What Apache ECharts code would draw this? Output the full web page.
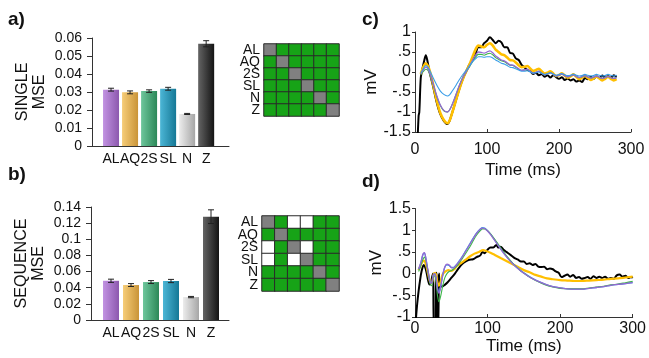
<!DOCTYPE html>
<html>
<head>
<meta charset="utf-8">
<script src="https://cdn.jsdelivr.net/npm/echarts@6/dist/echarts.min.js"></script>
<style>
  html, body { margin: 0; padding: 0; background: #fff; }
  #chart { width: 649px; height: 358px; }
</style>
</head>
<body>
<div id="chart"></div>
<script>
// bar panels a) and b)
var barCats = ['AL', 'AQ', '2S', 'SL', 'N', 'Z'];
var singleMse = [0.0313, 0.0298, 0.0305, 0.0318, 0.0178, 0.0568];
var singleErr = [0.0008, 0.0008, 0.0007, 0.0008, 0.0003, 0.0017];
var seqMse = [0.0486, 0.0433, 0.0470, 0.0483, 0.0284, 0.1280];
var seqErr = [0.0020, 0.0018, 0.0018, 0.0020, 0.0008, 0.0085];

// significance matrices: 0 = white, 1 = green, 2 = diagonal
var singleMatrix = [
  [2, 1, 1, 1, 1, 1],
  [1, 2, 1, 1, 1, 1],
  [1, 1, 2, 1, 1, 1],
  [1, 1, 1, 2, 1, 1],
  [1, 1, 1, 1, 2, 1],
  [1, 1, 1, 1, 1, 2]
];
var seqMatrix = [
  [2, 1, 0, 0, 1, 1],
  [1, 2, 1, 1, 1, 1],
  [0, 1, 2, 0, 1, 1],
  [0, 1, 0, 2, 1, 1],
  [1, 1, 1, 1, 2, 1],
  [1, 1, 1, 1, 1, 2]
];

// panel c) single, [ms, mV]
var cBlack = [[3,-2],[5,-1.1],[6,-1.0],[8,-0.15],[10,0.05],[13,0.3],[15,0.42],[17,0.3],[20,0.02],[25,-0.35],[30,-0.75],[35,-1.05],[40,-1.22],[45,-1.3],[48,-1.22],[52,-1.0],[57,-0.7],[62,-0.4],[67,-0.15],[72,0.05],[76,0.2],[80,0.3],[84,0.45],[88,0.62],[92,0.62],[96,0.72],[100,0.78],[104,0.87],[108,0.8],[112,0.72],[116,0.78],[120,0.74],[124,0.62],[128,0.62],[132,0.48],[136,0.46],[140,0.34],[144,0.3],[148,0.18],[152,0.12],[156,0.05],[160,0.02],[164,-0.05],[168,-0.02],[172,-0.08],[176,-0.05],[180,-0.12],[184,-0.08],[188,-0.14],[192,-0.08],[196,-0.13],[200,-0.17],[204,-0.13],[208,-0.2],[212,-0.16],[216,-0.21],[220,-0.18],[224,-0.24],[228,-0.21],[232,-0.25],[236,-0.15],[240,-0.18],[244,-0.12],[248,-0.17],[252,-0.11],[256,-0.15],[260,-0.09],[264,-0.14],[268,-0.1],[272,-0.15],[276,-0.08],[280,-0.12]];
var cOrange = [[8,-0.05],[11,0.1],[15,0.22],[18,0.15],[21,0.0],[25,-0.3],[30,-0.7],[35,-1.02],[40,-1.2],[45,-1.28],[48,-1.22],[52,-1.0],[57,-0.7],[62,-0.4],[67,-0.15],[72,0.05],[76,0.2],[80,0.38],[84,0.56],[88,0.66],[92,0.64],[96,0.62],[100,0.68],[104,0.72],[108,0.66],[112,0.56],[116,0.5],[120,0.44],[124,0.42],[128,0.36],[132,0.3],[136,0.29],[140,0.24],[144,0.17],[148,0.12],[152,0.13],[156,0.15],[160,0.09],[164,0.03],[168,0.05],[172,0.08],[176,0.02],[180,-0.04],[184,-0.02],[188,0.02],[192,-0.04],[196,-0.1],[200,-0.08],[204,-0.03],[208,-0.09],[212,-0.14],[216,-0.11],[220,-0.06],[224,-0.12],[228,-0.18],[232,-0.14],[236,-0.09],[240,-0.15],[244,-0.2],[248,-0.16],[252,-0.11],[256,-0.16],[260,-0.21],[264,-0.17],[268,-0.12],[272,-0.17],[276,-0.21],[280,-0.18]];
var cPurple = [[8,-0.05],[11,0.04],[15,0.12],[18,0.08],[21,-0.05],[25,-0.28],[30,-0.58],[35,-0.82],[40,-0.96],[45,-1.0],[48,-0.95],[52,-0.8],[57,-0.56],[62,-0.32],[67,-0.12],[72,0.04],[76,0.16],[80,0.3],[84,0.42],[88,0.5],[92,0.49],[96,0.47],[100,0.5],[104,0.53],[108,0.48],[112,0.4],[116,0.35],[120,0.3],[124,0.28],[128,0.23],[132,0.18],[136,0.17],[140,0.13],[144,0.08],[148,0.04],[152,0.05],[156,0.07],[160,0.02],[164,-0.03],[168,-0.01],[172,0.02],[176,-0.03],[180,-0.07],[184,-0.05],[188,-0.02],[192,-0.06],[196,-0.1],[200,-0.08],[204,-0.05],[208,-0.09],[212,-0.12],[216,-0.1],[220,-0.07],[224,-0.11],[228,-0.14],[232,-0.12],[236,-0.09],[240,-0.12],[244,-0.15],[248,-0.13],[252,-0.1],[256,-0.13],[260,-0.16],[264,-0.14],[268,-0.11],[272,-0.14],[276,-0.16],[280,-0.14]];
var cGreen = [[8,-0.07],[11,0.0],[15,0.07],[18,0.04],[21,-0.08],[25,-0.3],[30,-0.6],[35,-0.83],[40,-0.97],[45,-1.0],[48,-0.95],[52,-0.8],[57,-0.56],[62,-0.32],[67,-0.12],[72,0.03],[76,0.14],[80,0.26],[84,0.37],[88,0.44],[92,0.44],[96,0.42],[100,0.45],[104,0.47],[108,0.43],[112,0.36],[116,0.32],[120,0.28],[124,0.26],[128,0.21],[132,0.17],[136,0.16],[140,0.12],[144,0.07],[148,0.04],[152,0.05],[156,0.06],[160,0.01],[164,-0.03],[168,-0.01],[172,0.02],[176,-0.03],[180,-0.07],[184,-0.05],[188,-0.02],[192,-0.06],[196,-0.1],[200,-0.08],[204,-0.05],[208,-0.09],[212,-0.12],[216,-0.1],[220,-0.07],[224,-0.11],[228,-0.14],[232,-0.12],[236,-0.09],[240,-0.12],[244,-0.15],[248,-0.13],[252,-0.1],[256,-0.13],[260,-0.16],[264,-0.14],[268,-0.11],[272,-0.14],[276,-0.16],[280,-0.14]];
var cBlue = [[8,-0.03],[11,0.07],[15,0.16],[18,0.12],[21,0.02],[25,-0.14],[30,-0.32],[35,-0.47],[40,-0.56],[45,-0.6],[48,-0.57],[52,-0.47],[57,-0.33],[62,-0.18],[67,-0.05],[72,0.06],[76,0.16],[80,0.26],[84,0.33],[88,0.38],[92,0.38],[96,0.37],[100,0.38],[104,0.38],[108,0.35],[112,0.3],[116,0.26],[120,0.22],[124,0.2],[128,0.16],[132,0.12],[136,0.11],[140,0.08],[144,0.05],[148,0.02],[152,0.02],[156,0.03],[160,0.0],[164,-0.03],[168,-0.02],[172,0.0],[176,-0.03],[180,-0.06],[184,-0.04],[188,-0.02],[192,-0.05],[196,-0.08],[200,-0.06],[204,-0.04],[208,-0.07],[212,-0.09],[216,-0.08],[220,-0.05],[224,-0.08],[228,-0.1],[232,-0.09],[236,-0.06],[240,-0.08],[244,-0.1],[248,-0.09],[252,-0.06],[256,-0.08],[260,-0.1],[264,-0.09],[268,-0.06],[272,-0.08],[276,-0.1],[280,-0.08]];

// panel d) sequence, [ms, mV]
var dBlack = [[1,-1.1],[3,-0.7],[5,-0.4],[7,-0.15],[9,0.05],[12,0.2],[14,0.15],[16,0.02],[18,-0.15],[20,-0.25],[22,-0.2],[24,-0.05],[25,0.0],[26,-1.3],[28,-1.3],[29,0.0],[30,0.02],[31,-1.3],[32,-1.3],[33,0.0],[34,-0.28],[37,-0.3],[41,-0.26],[45,-0.2],[50,-0.1],[55,0.0],[60,0.12],[65,0.22],[70,0.28],[75,0.32],[80,0.33],[85,0.38],[90,0.42],[93,0.5],[96,0.47],[100,0.55],[104,0.6],[108,0.6],[112,0.66],[115,0.6],[118,0.62],[122,0.55],[126,0.5],[130,0.45],[134,0.4],[138,0.35],[142,0.32],[146,0.28],[150,0.28],[154,0.22],[158,0.24],[162,0.2],[166,0.22],[170,0.16],[174,0.15],[178,0.16],[182,0.1],[186,0.12],[190,0.1],[194,0.05],[198,0.02],[202,-0.08],[206,-0.05],[210,-0.02],[214,-0.07],[218,-0.03],[222,-0.1],[226,-0.08],[230,-0.12],[234,-0.1],[238,-0.08],[242,-0.12],[246,-0.06],[250,-0.1],[254,-0.07],[258,-0.1],[262,-0.07],[266,-0.12],[270,-0.1],[274,-0.12],[278,-0.04],[282,-0.02],[286,-0.07],[290,-0.05],[294,-0.1],[298,-0.08],[300,-0.1]];
var dOrange = [[5,0.08],[8,0.2],[12,0.3],[15,0.22],[18,0.0],[21,-0.2],[23,-0.22],[26,0.0],[28,0.02],[31,-0.2],[33,-0.28],[35,-0.2],[38,-0.02],[42,0.05],[46,0.08],[50,0.06],[54,0.1],[58,0.18],[64,0.25],[70,0.32],[76,0.4],[82,0.46],[88,0.5],[94,0.54],[98,0.52],[104,0.48],[110,0.43],[118,0.36],[126,0.29],[134,0.22],[142,0.15],[150,0.08],[158,0.03],[166,-0.03],[174,-0.07],[182,-0.11],[190,-0.13],[200,-0.15],[210,-0.16],[220,-0.17],[230,-0.17],[240,-0.16],[250,-0.15],[260,-0.14],[270,-0.12],[280,-0.11],[290,-0.09],[300,-0.07]];
var dBlue = [[5,0.1],[8,0.24],[11,0.44],[13,0.47],[15,0.35],[18,0.05],[21,-0.2],[23,-0.22],[25,-0.05],[27,0.0],[29,-0.1],[31,-0.33],[33,-0.42],[35,-0.33],[38,-0.05],[41,0.14],[44,0.2],[47,0.19],[50,0.14],[53,0.14],[56,0.18],[60,0.27],[65,0.39],[70,0.53],[75,0.67],[80,0.81],[85,0.94],[90,1.03],[93,1.06],[96,1.05],[100,0.99],[105,0.89],[110,0.77],[115,0.65],[120,0.53],[125,0.42],[130,0.32],[135,0.23],[140,0.15],[145,0.08],[150,0.02],[155,-0.04],[160,-0.09],[170,-0.18],[180,-0.25],[190,-0.3],[200,-0.33],[210,-0.35],[220,-0.36],[230,-0.36],[240,-0.34],[250,-0.32],[260,-0.3],[270,-0.27],[280,-0.25],[290,-0.23],[300,-0.21]];
var dPurple = [[5,0.1],[8,0.25],[11,0.45],[13,0.48],[15,0.35],[18,0.05],[21,-0.2],[23,-0.22],[25,-0.05],[27,0.0],[29,-0.1],[31,-0.35],[33,-0.45],[35,-0.35],[38,-0.05],[41,0.15],[44,0.22],[47,0.2],[50,0.14],[53,0.13],[56,0.18],[60,0.26],[65,0.38],[70,0.52],[75,0.66],[80,0.8],[85,0.93],[90,1.02],[93,1.05],[96,1.04],[100,0.98],[105,0.88],[110,0.76],[115,0.64],[120,0.52],[125,0.41],[130,0.31],[135,0.22],[140,0.14],[145,0.07],[150,0.01],[155,-0.05],[160,-0.1],[170,-0.18],[180,-0.25],[190,-0.3],[200,-0.33],[210,-0.35],[220,-0.36],[230,-0.36],[240,-0.34],[250,-0.32],[260,-0.3],[270,-0.27],[280,-0.25],[290,-0.23],[300,-0.21]];
var dGreen = [[5,0.05],[8,0.18],[11,0.33],[13,0.38],[15,0.3],[18,0.02],[21,-0.25],[23,-0.28],[25,-0.1],[27,-0.05],[29,-0.2],[31,-0.5],[33,-0.65],[35,-0.55],[38,-0.3],[41,-0.1],[44,0.0],[47,0.05],[50,0.07],[53,0.1],[56,0.15],[60,0.22],[65,0.34],[70,0.47],[75,0.6],[80,0.75],[85,0.89],[90,0.99],[93,1.03],[96,1.03],[100,0.99],[105,0.9],[110,0.79],[115,0.67],[120,0.55],[125,0.43],[130,0.33],[135,0.23],[140,0.15],[145,0.07],[150,0.01],[155,-0.05],[160,-0.1],[170,-0.19],[180,-0.26],[190,-0.31],[200,-0.34],[210,-0.35],[220,-0.35],[230,-0.35],[240,-0.33],[250,-0.31],[260,-0.29],[270,-0.26],[280,-0.24],[290,-0.21],[300,-0.18]];

var barColors = [
  ['#c293e2', '#8c58ae'],
  ['#f6cd78', '#c99438'],
  ['#6ec69c', '#2c8858'],
  ['#4cb6d6', '#157896'],
  ['#ececec', '#a6a6a6'],
  ['#646464', '#141414']
];
var FONT = 'Liberation Sans';
var AX = '#333';

function barRender(params, api) {
  var i = api.value(0), v = api.value(1), e = api.value(2);
  var base = api.coord([i, 0]);
  var top = api.coord([i, v]);
  var hi = api.coord([i, v + e]);
  var lo = api.coord([i, v - e]);
  var w = 16, cap = 3;
  var c = barColors[params.dataIndex];
  return {
    type: 'group',
    children: [
      { type: 'rect', shape: { x: base[0] - w / 2, y: top[1], width: w, height: base[1] - top[1] },
        style: { fill: new echarts.graphic.LinearGradient(0, 0, 1, 0, [{ offset: 0, color: c[0] }, { offset: 1, color: c[1] }]) } },
      { type: 'line', shape: { x1: hi[0], y1: hi[1], x2: lo[0], y2: lo[1] }, style: { stroke: '#222', lineWidth: 1 } },
      { type: 'line', shape: { x1: hi[0] - cap, y1: hi[1], x2: hi[0] + cap, y2: hi[1] }, style: { stroke: '#222', lineWidth: 1 } },
      { type: 'line', shape: { x1: lo[0] - cap, y1: lo[1], x2: lo[0] + cap, y2: lo[1] }, style: { stroke: '#222', lineWidth: 1 } }
    ]
  };
}

function barData(vals, errs) {
  return vals.map(function (v, k) { return [k + 1, v, errs[k]]; });
}
function matrixData(m) {
  var out = [];
  m.forEach(function (row, r) {
    row.forEach(function (val, c) { out.push([c, r, val]); });
  });
  return out;
}
function mvLabel(v) {
  if (v === 0) return '0';
  var s = String(Math.abs(v)).replace(/^0\./, '.');
  return (v < 0 ? '-' : '') + s;
}

function barX(idx, max) {
  return {
    gridIndex: idx, type: 'value', min: 0, max: max, interval: 1,
    axisLine: { onZero: false, lineStyle: { color: AX } },
    axisTick: { show: false },
    splitLine: { show: false },
    axisLabel: { fontSize: 14, color: '#111', margin: 6,
      formatter: function (v) { return barCats[v - 1] || ''; } }
  };
}
function barY(idx, max, interval, name) {
  return {
    gridIndex: idx, type: 'value', min: 0, max: max, interval: interval,
    name: name, nameLocation: 'middle', nameRotate: 90, nameGap: 44,
    nameTextStyle: { fontSize: 16, color: '#111', lineHeight: 17 },
    axisLine: { show: true, onZero: false, lineStyle: { color: AX } },
    axisTick: { show: true, length: 5, lineStyle: { color: AX } },
    splitLine: { show: false },
    axisLabel: { fontSize: 14, color: '#111', margin: 10 }
  };
}
function matX(idx) {
  return { gridIndex: idx, type: 'category', data: barCats, show: false };
}
function matY(idx) {
  return {
    gridIndex: idx, type: 'category', data: barCats, inverse: true,
    axisLine: { show: false }, axisTick: { show: false },
    axisLabel: { interval: 0, fontSize: 14, color: '#111', margin: 4 }
  };
}
function timeX(idx, margin, gap) {
  return {
    gridIndex: idx, type: 'value', min: 0, max: 300, interval: 100,
    name: 'Time (ms)', nameLocation: 'middle', nameGap: gap,
    nameTextStyle: { fontSize: 17, color: '#111' },
    axisLine: { onZero: false, lineStyle: { color: AX } },
    axisTick: { inside: true, length: 3, lineStyle: { color: AX } },
    splitLine: { show: false },
    axisLabel: { fontSize: 16, color: '#111', margin: margin }
  };
}
function mvY(idx, min, max) {
  return {
    gridIndex: idx, type: 'value', min: min, max: max, interval: 0.5,
    name: 'mV', nameLocation: 'middle', nameRotate: 90, nameGap: 26,
    nameTextStyle: { fontSize: 17, color: '#111' },
    axisLine: { show: true, onZero: false, lineStyle: { color: AX } },
    axisTick: { show: true, length: 3, lineStyle: { color: AX } },
    splitLine: { show: false },
    axisLabel: { fontSize: 16, color: '#111', margin: 4, formatter: mvLabel }
  };
}
function trace(data, xi, color, width) {
  return {
    type: 'line', xAxisIndex: xi, yAxisIndex: xi, data: data,
    showSymbol: false, symbol: 'none', clip: true, smooth: 0.3,
    lineStyle: { color: color, width: width }, emphasis: { disabled: true }
  };
}

var option = {
  animation: false,
  backgroundColor: '#fff',
  textStyle: { fontFamily: FONT },
  grid: [
    { left: 92, top: 38, width: 137, height: 108 },
    { left: 91, top: 207, width: 138, height: 113 },
    { left: 264, top: 44, width: 75, height: 72 },
    { left: 262, top: 216, width: 77, height: 75 },
    { left: 415, top: 32, width: 216, height: 100 },
    { left: 415, top: 208.5, width: 219, height: 108.5 }
  ],
  xAxis: [barX(0, 7.2), barX(1, 6.9), matX(2), matX(3), timeX(4, 10, 30), timeX(5, 4, 21)],
  yAxis: [
    barY(0, 0.06, 0.01, 'SINGLE\nMSE'),
    barY(1, 0.14, 0.02, 'SEQUENCE\nMSE'),
    matY(2), matY(3),
    mvY(4, -1.5, 1), mvY(5, -1, 1.5)
  ],
  visualMap: {
    type: 'piecewise', show: false, dimension: 2, seriesIndex: [2, 3],
    pieces: [
      { value: 0, color: '#ffffff' },
      { value: 1, color: '#17a317' },
      { value: 2, color: '#808080' }
    ]
  },
  graphic: [
    { type: 'text', left: 8, top: 10, style: { text: 'a)', font: 'bold 19px ' + FONT, fill: '#111' } },
    { type: 'text', left: 8, top: 165, style: { text: 'b)', font: 'bold 19px ' + FONT, fill: '#111' } },
    { type: 'text', left: 362, top: 10, style: { text: 'c)', font: 'bold 19px ' + FONT, fill: '#111' } },
    { type: 'text', left: 362, top: 172, style: { text: 'd)', font: 'bold 19px ' + FONT, fill: '#111' } }
  ],
  series: [
    { type: 'custom', xAxisIndex: 0, yAxisIndex: 0, renderItem: barRender, data: barData(singleMse, singleErr) },
    { type: 'custom', xAxisIndex: 1, yAxisIndex: 1, renderItem: barRender, data: barData(seqMse, seqErr) },
    { type: 'heatmap', xAxisIndex: 2, yAxisIndex: 2, data: matrixData(singleMatrix),
      itemStyle: { borderColor: '#2a2a2a', borderWidth: 1 }, emphasis: { disabled: true } },
    { type: 'heatmap', xAxisIndex: 3, yAxisIndex: 3, data: matrixData(seqMatrix),
      itemStyle: { borderColor: '#2a2a2a', borderWidth: 1 }, emphasis: { disabled: true } },
    trace(cBlack, 4, '#000000', 2),
    trace(cOrange, 4, '#ffbf00', 2.6),
    trace(cGreen, 4, '#3db54a', 1.1),
    trace(cPurple, 4, '#9468d2', 1.3),
    trace(cBlue, 4, '#3a9de8', 1.1),
    trace(dBlack, 5, '#000000', 2),
    trace(dOrange, 5, '#ffbf00', 2.2),
    trace(dBlue, 5, '#3a9de8', 1.3),
    trace(dGreen, 5, '#3db54a', 1.1),
    trace(dPurple, 5, '#9468d2', 1.3)
  ]
};

var myChart = echarts.init(document.getElementById('chart'));
myChart.setOption(option);
</script>
</body>
</html>
